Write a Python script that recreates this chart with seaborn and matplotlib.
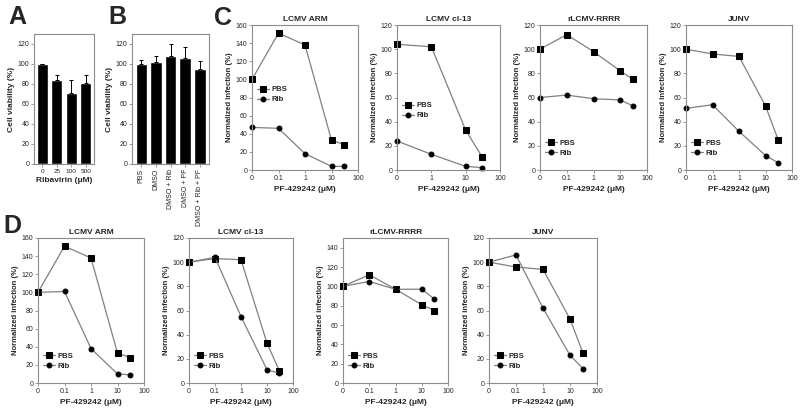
import numpy as np
import pandas as pd
import seaborn as sns
import matplotlib.pyplot as plt

sns.set_style("ticks")
plt.rcParams['font.family'] = ['Liberation Sans', 'DejaVu Sans']

W, H = 800, 408

# ---- data ----
rib_doses = ['0', '25', '100', '500']
rib_viab = [100, 84, 71, 81]
rib_err = [0, 5, 13, 8]

b_groups = ['PBS', 'DMSO', 'DMSO + Rib', 'DMSO + PF', 'DMSO + Rib + PF']
b_viab = [100, 102, 108, 106, 95]
b_err = [4, 6, 12, 11, 8]

pf_conc = [0, 0.1, 1, 10, 30]
pf_conc_cl13 = [0, 1, 10, 30]
virus_titles = ['LCMV ARM', 'LCMV cl-13', 'rLCMV-RRRR', 'JUNV']

# panel C
c_pbs_arm = [100, 151, 138, 33, 28]
c_rib_arm = [47, 46, 18, 4, 4]
c_pbs_cl13 = [104, 102, 33, 11]
c_rib_cl13 = [24, 13, 3, 2]
c_pbs_rrrr = [100, 112, 98, 82, 75]
c_rib_rrrr = [60, 62, 59, 58, 53]
c_pbs_junv = [100, 96, 94, 53, 25]
c_rib_junv = [51, 54, 32, 12, 6]

# panel D
d_pbs_arm = [100, 151, 138, 33, 28]
d_rib_arm = [100, 101, 38, 10, 9]
d_pbs_cl13 = [100, 103, 102, 33, 10]
d_rib_cl13 = [100, 104, 55, 11, 8]
d_pbs_rrrr = [100, 112, 97, 81, 75]
d_rib_rrrr = [100, 105, 97, 97, 87]
d_pbs_junv = [100, 96, 94, 53, 25]
d_rib_junv = [100, 106, 62, 23, 12]

SPINE = '#8c8c8c'
LINE = '#808080'

fig = plt.figure(figsize=(W / 100, H / 100), dpi=100)


def px_axes(l, t, r, b):
    return fig.add_axes([l / W, 1 - b / H, (r - l) / W, (b - t) / H])


def style_axes(ax):
    for s in ax.spines.values():
        s.set_visible(True)
        s.set_color(SPINE)
        s.set_linewidth(0.8)
    ax.tick_params(labelsize=5, length=2, width=0.6, color=SPINE, pad=1.5)


def to_pos(conc):
    # zero is drawn one decade before the lowest dose on a log axis
    nz = [c for c in conc if c > 0]
    lo = np.log10(min(nz)) - 1
    return [np.log10(c) if c > 0 else lo for c in conc]


def bar_panel(ax, cats, vals, errs, ylab, xlab=None, rot=0):
    sns.barplot(x=cats, y=vals, color='black', saturation=1, width=0.78,
                errorbar=None, ax=ax)
    ax.errorbar(x=np.arange(len(cats)), y=vals,
                yerr=[np.zeros(len(errs)), errs], fmt='none',
                ecolor='black', elinewidth=0.7, capsize=1.5, capthick=0.7)
    ax.set_ylim(0, 130)
    ax.set_yticks(range(0, 121, 20))
    style_axes(ax)
    ax.set_ylabel(ylab, fontsize=6, fontweight='bold', labelpad=2)
    ax.set_xlabel(xlab if xlab else '', fontsize=6, fontweight='bold', labelpad=2)
    ax.set_xticks(range(len(cats)))
    if rot:
        ax.set_xticklabels(cats, rotation=rot, fontsize=5)
    else:
        ax.set_xticklabels(cats, fontsize=4.6)


def line_panel(ax, conc, pbs, rib, title, ymax, ytop, legend_y, legend_x=0.02):
    pos = to_pos(conc)
    sns.lineplot(x=pos, y=pbs, color=LINE, lw=0.9, marker='s', markersize=3.8,
                 markerfacecolor='black', markeredgecolor='black',
                 label='PBS', clip_on=False, ax=ax)
    sns.lineplot(x=pos, y=rib, color=LINE, lw=0.9, marker='o', markersize=3.5,
                 markerfacecolor='black', markeredgecolor='black',
                 label='Rib', clip_on=False, ax=ax)
    lo = min(pos)
    ticks = list(range(int(round(lo)), 3))
    labels = ['0'] + [('%g' % 10 ** t) for t in ticks[1:]]
    ax.set_xticks(ticks)
    ax.set_xticklabels(labels)
    ax.set_xlim(lo, 2)
    ax.set_ylim(0, ytop)
    ax.set_yticks(range(0, ymax + 1, 20))
    style_axes(ax)
    ax.set_title(title, fontsize=6, fontweight='bold', pad=3)
    ax.set_ylabel('Normalized infection (%)', fontsize=5.5, fontweight='bold', labelpad=2)
    ax.set_xlabel('PF-429242 (\u03bcM)', fontsize=6, fontweight='bold', labelpad=3)
    ax.legend(loc='upper left', bbox_to_anchor=(legend_x, legend_y), frameon=False,
              prop={'size': 5.5, 'weight': 'bold'}, handlelength=1.6,
              handletextpad=0.3, labelspacing=0.35, borderaxespad=0)


# ---- panel A and B ----
axA = px_axes(34, 34, 94, 164)
bar_panel(axA, rib_doses, rib_viab, rib_err, 'Cell viability (%)', 'Ribavirin (\u03bcM)')

axB = px_axes(132, 34, 209, 164)
bar_panel(axB, b_groups, b_viab, b_err, 'Cell viability (%)', rot=90)

# ---- panel C ----
c_boxes = [(252, 25, 358, 170), (397, 25, 500, 170), (540, 25, 647, 170), (686, 25, 792, 170)]
c_sets = [(pf_conc, c_pbs_arm, c_rib_arm, 160, 160, 0.6),
          (pf_conc_cl13, c_pbs_cl13, c_rib_cl13, 120, 120, 0.49),
          (pf_conc, c_pbs_rrrr, c_rib_rrrr, 120, 120, 0.23),
          (pf_conc, c_pbs_junv, c_rib_junv, 120, 120, 0.23)]
for box, title, (conc, p, r, ym, yt, ly) in zip(c_boxes, virus_titles, c_sets):
    line_panel(px_axes(*box), conc, p, r, title, ym, yt, ly)

# ---- panel D ----
d_boxes = [(38, 238, 144, 383), (189, 238, 293, 383), (343, 238, 448, 383), (489, 238, 597, 383)]
d_sets = [(d_pbs_arm, d_rib_arm, 160, 160),
          (d_pbs_cl13, d_rib_cl13, 120, 120),
          (d_pbs_rrrr, d_rib_rrrr, 140, 150),
          (d_pbs_junv, d_rib_junv, 120, 120)]
for box, title, (p, r, ym, yt) in zip(d_boxes, virus_titles, d_sets):
    line_panel(px_axes(*box), pf_conc, p, r, title, ym, yt, 0.23)

# panel letters
for letter, x, y in [('A', 17, 17), ('B', 117, 17), ('C', 223, 18), ('D', 12, 226)]:
    fig.text(x / W, 1 - y / H, letter, fontsize=18, fontweight='bold',
             ha='center', va='center')

fig.savefig('out.png', dpi=100)
